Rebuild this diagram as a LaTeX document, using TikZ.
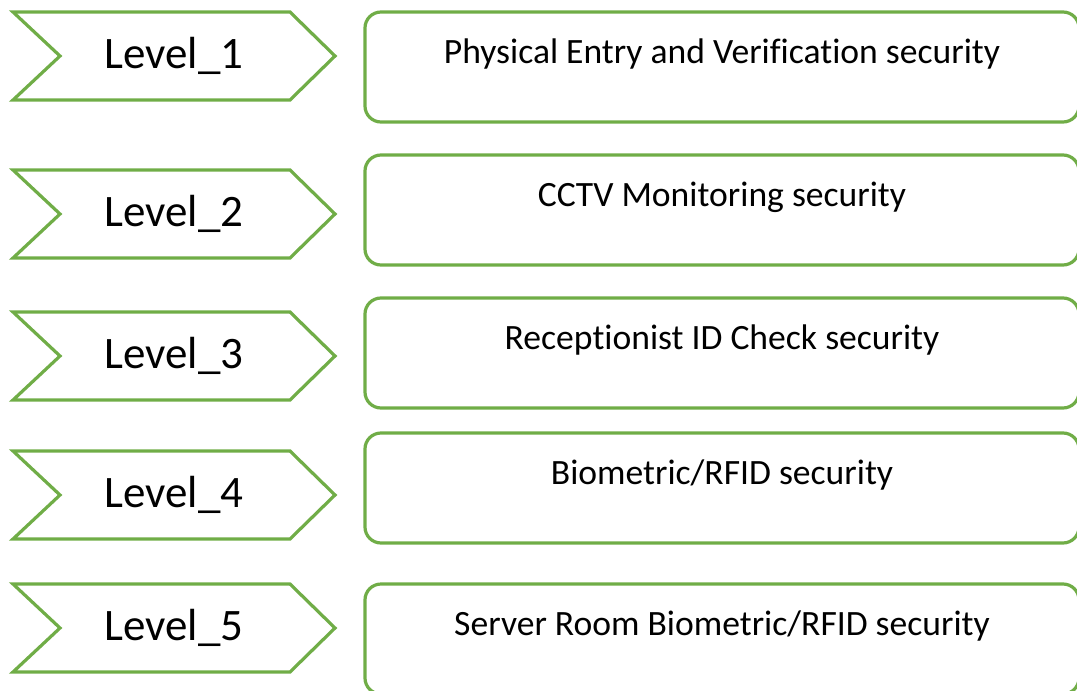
\documentclass[tikz,border=0pt]{standalone}
\usepackage{fontspec}
\setmainfont[Ligatures=NoCommon]{Carlito}
\definecolor{lvlgreen}{HTML}{70AD47}
\tikzset{
  chevron/.style={draw=lvlgreen, line width=3.2pt, line join=miter},
  levelbox/.style={draw=lvlgreen, line width=3.2pt, rounded corners=16pt},
  leveltext/.style={font=\fontsize{45}{54}\selectfont, anchor=base, inner sep=0pt},
  boxtext/.style={font=\fontsize{35.6}{42}\selectfont, anchor=base, inner sep=0pt}
}
\begin{document}
\begin{tikzpicture}[x=1pt,y=-1pt]
\clip (0,0) rectangle (1077,691);

%levels: number / chevron top / box top / text
\foreach \n/\ya/\yb/\txt in {
  1/12/12/{Physical Entry and Verification security},
  2/170/155/{CCTV Monitoring security},
  3/312/298/{Receptionist ID Check security},
  4/451/433/{Biometric/RFID security},
  5/584/584/{Server Room Biometric/RFID security}}{
  \draw[chevron] (13,\ya) -- (290,\ya) -- (335,\ya+44) -- (290,\ya+88)
     -- (13,\ya+88) -- (60,\ya+44) -- cycle;
  \node[leveltext] (lvl\n) at (174,\ya+56) {Level\_\n};
  \draw[levelbox] (365,\yb) rectangle (1079,\yb+110);
  \node[boxtext] (sec\n) at (722,\yb+51) {\txt};
}
\end{tikzpicture}
\end{document}
